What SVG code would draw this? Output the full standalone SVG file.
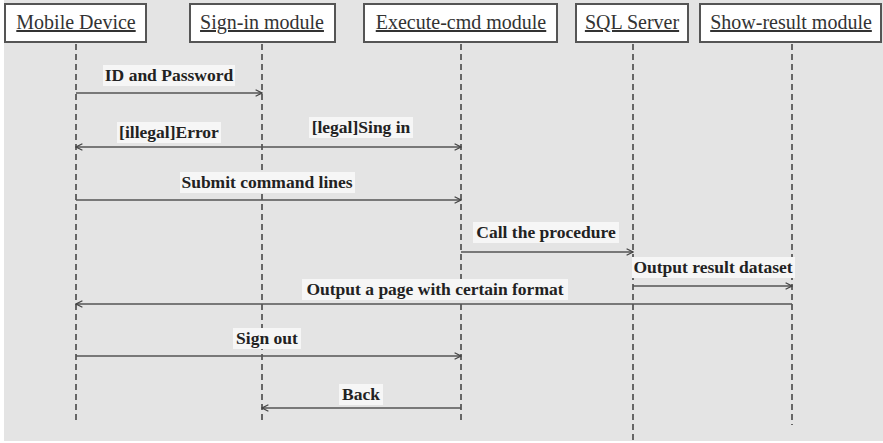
<svg xmlns="http://www.w3.org/2000/svg" width="883" height="443" viewBox="0 0 883 443">
<defs>
<style>
.bg{fill:#e4e4e4}
.box{fill:#fff;stroke:#555;stroke-width:2}
.hd{font-family:"Liberation Serif","Times New Roman",serif;font-size:20px;fill:#333;text-anchor:middle;text-decoration:underline}
.life{stroke:#666;stroke-width:2;stroke-dasharray:6,4;fill:none}
.msg{stroke:#555;stroke-width:1.6;fill:none}
.lb{font-family:"Liberation Serif","Times New Roman",serif;font-weight:bold;font-size:17.5px;fill:#222;text-anchor:middle}
.lbg{fill:#f6f6f6}
</style>
<marker id="ah" viewBox="0 0 10 10" refX="9" refY="5" markerWidth="8" markerHeight="8" orient="auto-start-reverse" markerUnits="userSpaceOnUse">
<path d="M1,1 L9,5 L1,9" fill="none" stroke="#444" stroke-width="1.6"/>
</marker>
</defs>
<rect class="bg" x="4" y="0" width="879" height="441"/>
<g id="mobile"><rect class="box" x="5" y="4" width="141" height="38"/><text class="hd" x="76" y="29">Mobile Device</text></g>
<g id="signin"><rect class="box" x="190" y="4" width="145" height="38"/><text class="hd" x="262" y="29">Sign-in module</text></g>
<g id="execute"><rect class="box" x="364" y="4" width="193" height="38"/><text class="hd" x="461" y="29">Execute-cmd module</text></g>
<g id="sql"><rect class="box" x="576" y="4" width="112" height="38"/><text class="hd" x="632" y="29">SQL Server</text></g>
<g id="showresult"><rect class="box" x="700" y="4" width="181" height="38"/><text class="hd" x="791" y="29">Show-result module</text></g>
<g id="lifelines">
<line class="life" x1="76" y1="44" x2="76" y2="424"/>
<line class="life" x1="262" y1="44" x2="262" y2="424"/>
<line class="life" x1="461" y1="44" x2="461" y2="424"/>
<line class="life" x1="633" y1="44" x2="633" y2="443"/>
<line class="life" x1="792" y1="44" x2="792" y2="425"/>
</g>
<g id="connectors">
<line class="msg" x1="76" y1="93" x2="262" y2="93" marker-end="url(#ah)"/>
<line class="msg" x1="76" y1="147" x2="461" y2="147" marker-start="url(#ah)" marker-end="url(#ah)"/>
<line class="msg" x1="76" y1="200" x2="461" y2="200" marker-end="url(#ah)"/>
<line class="msg" x1="461" y1="252" x2="633" y2="252" marker-end="url(#ah)"/>
<line class="msg" x1="633" y1="286" x2="792" y2="286" marker-end="url(#ah)"/>
<line class="msg" x1="792" y1="304" x2="76" y2="304" marker-end="url(#ah)"/>
<line class="msg" x1="76" y1="356" x2="461" y2="356" marker-end="url(#ah)"/>
<line class="msg" x1="461" y1="408" x2="262" y2="408" marker-end="url(#ah)"/>
</g>
<g id="labels">
<rect class="lbg" x="103" y="65" width="132" height="21"/><text class="lb" x="169" y="81">ID and Password</text>
<rect class="lbg" x="117" y="122" width="104" height="21"/><text class="lb" x="169" y="138">[illegal]Error</text>
<rect class="lbg" x="309" y="117" width="104" height="21"/><text class="lb" x="361" y="133">[legal]Sing in</text>
<rect class="lbg" x="180" y="172" width="175" height="21"/><text class="lb" x="267" y="188">Submit command lines</text>
<rect class="lbg" x="473" y="222" width="146" height="21"/><text class="lb" x="546" y="238">Call the procedure</text>
<rect class="lbg" x="632" y="257" width="163" height="21"/><text class="lb" x="713" y="273">Output result dataset</text>
<rect class="lbg" x="302" y="279" width="266" height="21"/><text class="lb" x="435" y="295">Output a page with certain format</text>
<rect class="lbg" x="233" y="328" width="68" height="21"/><text class="lb" x="267" y="344">Sign out</text>
<rect class="lbg" x="339" y="384" width="44" height="21"/><text class="lb" x="361" y="400">Back</text>
</g>
</svg>
